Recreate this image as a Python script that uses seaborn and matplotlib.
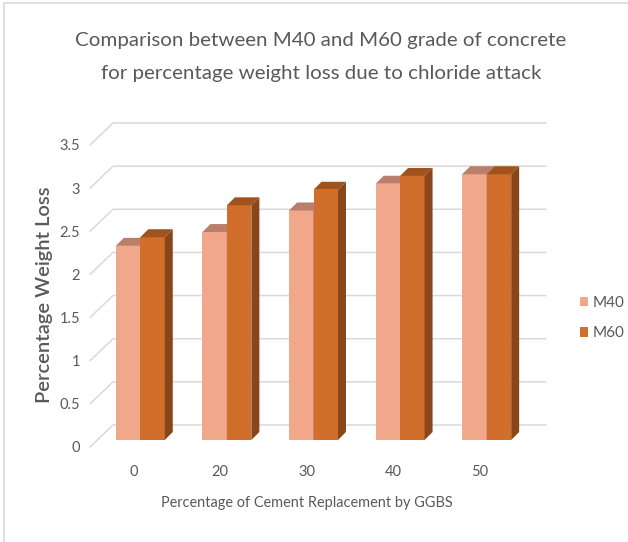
import matplotlib
matplotlib.use("Agg")
import numpy as np
import pandas as pd
import seaborn as sns
import matplotlib.pyplot as plt
import matplotlib.transforms as mtransforms
from matplotlib.patches import Polygon, Patch
from matplotlib.lines import Line2D

# ---- data -------------------------------------------------------------
categories = ["0", "20", "30", "40", "50"]
series = ["M40", "M60"]
m40_loss = [2.25, 2.41, 2.66, 2.97, 3.08]
m60_loss = [2.35, 2.72, 2.90, 3.06, 3.08]
y_ticks = [0, 0.5, 1, 1.5, 2, 2.5, 3, 3.5]
y_tick_labels = ["0", "0.5", "1", "1.5", "2", "2.5", "3", "3.5"]

title_lines = ["Comparison between M40 and M60 grade of concrete",
               "for percentage weight loss due to chloride attack"]
x_title = "Percentage of Cement Replacement by GGBS"
y_title = "Percentage Weight Loss"

df = pd.DataFrame({
    "replacement": categories * 2,
    "loss": m40_loss + m60_loss,
    "grade": [series[0]] * len(categories) + [series[1]] * len(categories),
})

# ---- style ------------------------------------------------------------
front_colors = {"M40": "#F1A78A", "M60": "#D26E2C"}
top_colors = {"M40": "#BA7F6A", "M60": "#A0531F"}
side_colors = {"M40": "#A86A52", "M60": "#87471B"}
grid_color = "#D9D9D9"
text_color = "#595959"

sns.set_theme(style="white")
plt.rcParams["font.family"] = ["Lato", "DejaVu Sans"]

W, H, DPI = 628, 542, 100
fig = plt.figure(figsize=(W / DPI, H / DPI), dpi=DPI)
fig.patch.set_facecolor("white")
ax = fig.add_axes([90 / W, 95 / H, 433 / W, 302 / H])
ax.set_facecolor("none")

sns.barplot(data=df, x="replacement", y="loss", hue="grade",
            order=categories, hue_order=series,
            palette=[front_colors[s] for s in series],
            width=0.565, saturation=1, linewidth=0, edgecolor="none",
            legend=False, ax=ax)

ax.set_xlim(-0.5, len(categories) - 0.5)
ax.set_ylim(0, 3.5)
ax.autoscale(False)

# depth offsets of the pseudo-3D projection, in pixels (right, up)
BAR_FRONT = np.array([7.0, 7.0])
BAR_BACK = np.array([15.0, 15.0])
WALL = np.array([23.0, 22.0])
ident = mtransforms.IdentityTransform()


def px(x, y):
    return np.asarray(ax.transData.transform((x, y)))


def shifted(off):
    return ax.transData + mtransforms.ScaledTranslation(
        off[0] / DPI, off[1] / DPI, fig.dpi_scale_trans)


# back wall gridlines and left-wall diagonals
x_left, x_right = ax.get_xlim()
for v in y_ticks:
    p0 = px(x_left, v)
    p1 = p0 + WALL
    p2 = px(x_right, v) + WALL
    ax.add_line(Line2D([p0[0], p1[0], p2[0]], [p0[1], p1[1], p2[1]],
                       transform=ident, color=grid_color, lw=1.1,
                       zorder=0.5, clip_on=False))

# bars: shift the front faces back and add tops and sides
for z, (container, name) in enumerate(zip(ax.containers, series)):
    for bar in container:
        x0 = bar.get_x()
        w = bar.get_width()
        h = bar.get_height()
        bar.set_transform(shifted(BAR_FRONT))
        bar.set_zorder(2 + z)
        bar.set_clip_on(False)
        fl, fr = px(x0, h) + BAR_FRONT, px(x0 + w, h) + BAR_FRONT
        bl, br = px(x0, h) + BAR_BACK, px(x0 + w, h) + BAR_BACK
        ax.add_patch(Polygon([fl, fr, br, bl], closed=True, transform=ident,
                             facecolor=top_colors[name], edgecolor="none",
                             zorder=2 + z, clip_on=False))
        r0f = px(x0 + w, 0) + BAR_FRONT
        r0b = px(x0 + w, 0) + BAR_BACK
        ax.add_patch(Polygon([r0f, fr, br, r0b], closed=True, transform=ident,
                             facecolor=side_colors[name], edgecolor="none",
                             zorder=2 + z, clip_on=False))

ax.set_xlim(x_left, x_right)
ax.set_ylim(0, 3.5)

# axes decoration
for s in ax.spines.values():
    s.set_visible(False)
ax.set_yticks(y_ticks)
ax.set_yticklabels(y_tick_labels)
ax.set_xticks(range(len(categories)))
ax.set_xticklabels(categories)
ax.tick_params(axis="both", length=0, labelsize=10.5, labelcolor=text_color)
ax.tick_params(axis="y", pad=7)
ax.tick_params(axis="x", pad=13)
ax.set_xlabel("")
ax.set_ylabel("")
ax.grid(False)

renderer = fig.canvas.get_renderer()


def fit_width(t, target, vertical=False):
    for _ in range(4):
        bb = t.get_window_extent(renderer)
        cur = bb.height if vertical else bb.width
        t.set_fontsize(t.get_fontsize() * target / cur)


t1 = fig.text(321 / W, 1 - 46 / H, title_lines[0], ha="center", va="baseline",
              fontsize=15, color=text_color)
fit_width(t1, 490)
t2 = fig.text(321 / W, 1 - 79 / H, title_lines[1], ha="center", va="baseline",
              fontsize=t1.get_fontsize(), color=text_color)

xl = fig.text(306.5 / W, 1 - 503 / H, x_title, ha="center", va="center",
              fontsize=11, color=text_color)
fit_width(xl, 292)

yl = fig.text(45 / W, 1 - 295 / H, y_title, ha="center", va="center",
              rotation=90, fontsize=11, fontweight="semibold", color=text_color)
fit_width(yl, 216, vertical=True)

# legend
handles = [Patch(facecolor=front_colors[s], edgecolor="none") for s in series]
fig.legend(handles, series, loc="center left",
           bbox_to_anchor=(580 / W, 1 - 318 / H), frameon=False,
           fontsize=11, labelcolor=text_color, handlelength=0.55,
           handleheight=0.55, handletextpad=0.3, labelspacing=1.1,
           borderpad=0, borderaxespad=0)

# chart area border (top and left edges)
fig.add_artist(Line2D([4 / W, 4 / W, 1.0], [0.0, 1 - 3 / H, 1 - 3 / H],
                      transform=fig.transFigure, color=grid_color, lw=1.2))

fig.savefig("out.png", dpi=DPI, facecolor="white")
